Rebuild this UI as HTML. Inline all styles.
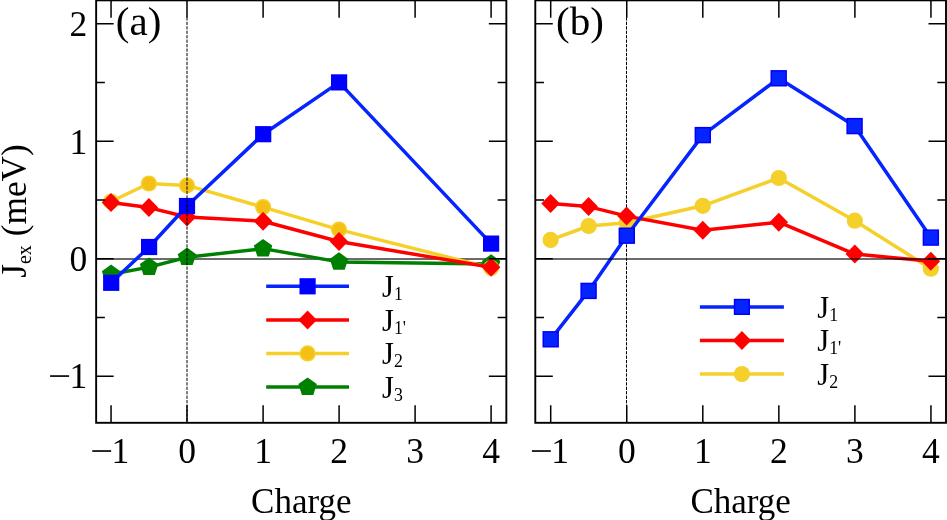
<!DOCTYPE html>
<html><head><meta charset="utf-8"><title>Jex vs Charge</title>
<style>
html,body{margin:0;padding:0;background:#fff;}
body{width:947px;height:520px;overflow:hidden;}
svg{display:block;will-change:transform;}
text{font-family:"Liberation Serif",serif;fill:#000;}
</style></head><body>
<svg width="947" height="520" viewBox="0 0 947 520">
<rect width="947" height="520" fill="#fff"/>
<path d="M96.15 258.9H506.35" stroke="#6b6b6b" stroke-width="2"/>
<path d="M111.1 274.2L149.1 267.1L187 257.2L263.05 248.6L339 261.9L491.1 263.9" stroke="#008000" stroke-width="3.5" fill="none" stroke-linejoin="round"/>
<path d="M111.10 264.50L120.33 271.20L116.80 282.05L105.40 282.05L101.87 271.20Z" fill="#008000"/>
<path d="M149.10 257.40L158.33 264.10L154.80 274.95L143.40 274.95L139.87 264.10Z" fill="#008000"/>
<path d="M187.00 247.50L196.23 254.20L192.70 265.05L181.30 265.05L177.77 254.20Z" fill="#008000"/>
<path d="M263.05 238.90L272.28 245.60L268.75 256.45L257.35 256.45L253.82 245.60Z" fill="#008000"/>
<path d="M339.00 252.20L348.23 258.90L344.70 269.75L333.30 269.75L329.77 258.90Z" fill="#008000"/>
<path d="M491.10 254.20L500.33 260.90L496.80 271.75L485.40 271.75L481.87 260.90Z" fill="#008000"/>
<path d="M111 201.5L148.9 183.5L187 185.4L263.1 207.1L339 229.6L491.1 268" stroke="#f5d02a" stroke-width="3.5" fill="none" stroke-linejoin="round"/>
<circle cx="111" cy="201.5" r="7.35" fill="#f5c015" stroke="#f5d02a" stroke-width="1.5"/>
<circle cx="148.9" cy="183.5" r="7.35" fill="#f5c015" stroke="#f5d02a" stroke-width="1.5"/>
<circle cx="187" cy="185.4" r="7.35" fill="#f5c015" stroke="#f5d02a" stroke-width="1.5"/>
<circle cx="263.1" cy="207.1" r="7.35" fill="#f5c015" stroke="#f5d02a" stroke-width="1.5"/>
<circle cx="339" cy="229.6" r="7.35" fill="#f5c015" stroke="#f5d02a" stroke-width="1.5"/>
<circle cx="491.1" cy="268" r="7.35" fill="#f5c015" stroke="#f5d02a" stroke-width="1.5"/>
<path d="M111 202.5L148.9 207.6L187 217L263.1 221.2L339 241.5L491.1 267.3" stroke="#ff0000" stroke-width="3.5" fill="none" stroke-linejoin="round"/>
<path d="M111 193.0L120.3 202.5L111 212.0L101.7 202.5Z" fill="#ff0000"/>
<path d="M148.9 198.1L158.20000000000002 207.6L148.9 217.1L139.6 207.6Z" fill="#ff0000"/>
<path d="M187 207.5L196.3 217L187 226.5L177.7 217Z" fill="#ff0000"/>
<path d="M263.1 211.7L272.40000000000003 221.2L263.1 230.7L253.8 221.2Z" fill="#ff0000"/>
<path d="M339 232.0L348.3 241.5L339 251.0L329.7 241.5Z" fill="#ff0000"/>
<path d="M491.1 257.8L500.40000000000003 267.3L491.1 276.8L481.8 267.3Z" fill="#ff0000"/>
<path d="M111.2 282.8L149.1 247L187 206L263.2 134.2L339.1 82.4L491.1 243.6" stroke="#0524ff" stroke-width="3.5" fill="none" stroke-linejoin="round"/>
<rect x="103.10" y="274.70" width="16.2" height="16.2" fill="#0000ff"/>
<rect x="141.00" y="238.90" width="16.2" height="16.2" fill="#0000ff"/>
<rect x="178.90" y="197.90" width="16.2" height="16.2" fill="#0000ff"/>
<rect x="255.10" y="126.10" width="16.2" height="16.2" fill="#0000ff"/>
<rect x="331.00" y="74.30" width="16.2" height="16.2" fill="#0000ff"/>
<rect x="483.00" y="235.50" width="16.2" height="16.2" fill="#0000ff"/>
<path d="M187 17.35V422.8" stroke="#000" stroke-width="1" stroke-dasharray="3.2 1.25" fill="none"/>
<path d="M111.05 422.8V405.3M111.05 0.35V17.85M187.0 422.8V405.3M187.0 0.35V17.85M263.1 422.8V405.3M263.1 0.35V17.85M339.1 422.8V405.3M339.1 0.35V17.85M415.1 422.8V405.3M415.1 0.35V17.85M491.1 422.8V405.3M491.1 0.35V17.85M96.15 23.849999999999994H113.65M506.35 23.849999999999994H488.85M96.15 141.3H113.65M506.35 141.3H488.85M96.15 258.75H113.65M506.35 258.75H488.85M96.15 376.2H113.65M506.35 376.2H488.85M96.15 82.57499999999999H104.85000000000001M506.35 82.57499999999999H497.65000000000003M96.15 200.025H104.85000000000001M506.35 200.025H497.65000000000003M96.15 317.475H104.85000000000001M506.35 317.475H497.65000000000003" stroke="#000" stroke-width="1.5" fill="none"/>
<rect x="96.15" y="0.35" width="410.20000000000005" height="422.45" fill="none" stroke="#000" stroke-width="1.9"/>
<path d="M266.2 286.3H349" stroke="#0524ff" stroke-width="3.5"/>
<rect x="299.50" y="278.20" width="16.2" height="16.2" fill="#0000ff"/>
<text x="382.0" y="296.90000000000003" font-size="30.5">J<tspan font-size="17.8" dy="3.2">1</tspan></text>
<path d="M266.2 319.9H349" stroke="#ff0000" stroke-width="3.5"/>
<path d="M307.6 310.4L316.90000000000003 319.9L307.6 329.4L298.3 319.9Z" fill="#ff0000"/>
<text x="382.0" y="330.5" font-size="30.5">J<tspan font-size="17.8" dy="3.2">1'</tspan></text>
<path d="M266.2 353.4H349" stroke="#f5d02a" stroke-width="3.5"/>
<circle cx="307.6" cy="353.4" r="7.35" fill="#f5c015" stroke="#f5d02a" stroke-width="1.5"/>
<text x="382.0" y="364.0" font-size="30.5">J<tspan font-size="17.8" dy="3.2">2</tspan></text>
<path d="M266.2 387.0H349" stroke="#008000" stroke-width="3.5"/>
<path d="M307.60 377.40L316.83 384.10L313.30 394.95L301.90 394.95L298.37 384.10Z" fill="#008000"/>
<text x="382.0" y="397.6" font-size="30.5">J<tspan font-size="17.8" dy="3.2">3</tspan></text>
<path d="M626.5 17.35V422.8" stroke="#000" stroke-width="1" stroke-dasharray="3.2 1.25" fill="none"/>
<path d="M550.6 239.9L588.7 226.0L626.7 222.8L702.8 205.8L778.8 178L854.8 220.7L930.85 268.7" stroke="#f5d02a" stroke-width="3.5" fill="none" stroke-linejoin="round"/>
<circle cx="550.6" cy="239.9" r="8.1" fill="#f5d02a"/>
<circle cx="588.7" cy="226.0" r="8.1" fill="#f5d02a"/>
<circle cx="626.7" cy="222.8" r="8.1" fill="#f5d02a"/>
<circle cx="702.8" cy="205.8" r="8.1" fill="#f5d02a"/>
<circle cx="778.8" cy="178" r="8.1" fill="#f5d02a"/>
<circle cx="854.8" cy="220.7" r="8.1" fill="#f5d02a"/>
<circle cx="930.85" cy="268.7" r="8.1" fill="#f5d02a"/>
<path d="M550.6 203.4L588.6 206.6L626.6 216.1L702.8 230.3L778.8 222.2L854.8 254.1L930.85 261.2" stroke="#ff0000" stroke-width="3.5" fill="none" stroke-linejoin="round"/>
<path d="M550.6 193.9L559.9 203.4L550.6 212.9L541.3000000000001 203.4Z" fill="#ff0000"/>
<path d="M588.6 197.1L597.9 206.6L588.6 216.1L579.3000000000001 206.6Z" fill="#ff0000"/>
<path d="M626.6 206.6L635.9 216.1L626.6 225.6L617.3000000000001 216.1Z" fill="#ff0000"/>
<path d="M702.8 220.8L712.0999999999999 230.3L702.8 239.8L693.5 230.3Z" fill="#ff0000"/>
<path d="M778.8 212.7L788.0999999999999 222.2L778.8 231.7L769.5 222.2Z" fill="#ff0000"/>
<path d="M854.8 244.6L864.0999999999999 254.1L854.8 263.6L845.5 254.1Z" fill="#ff0000"/>
<path d="M930.85 251.7L940.15 261.2L930.85 270.7L921.5500000000001 261.2Z" fill="#ff0000"/>
<path d="M550.7 339.3L588.6 290.9L626.8 235.7L702.8 135.1L778.7 78.3L854.6 126.1L930.85 237.6" stroke="#0524ff" stroke-width="3.5" fill="none" stroke-linejoin="round"/>
<rect x="543.25" y="331.85" width="14.899999999999999" height="14.899999999999999" fill="#0524ff" stroke="#0000ff" stroke-width="1.5"/>
<rect x="581.15" y="283.45" width="14.899999999999999" height="14.899999999999999" fill="#0524ff" stroke="#0000ff" stroke-width="1.5"/>
<rect x="619.35" y="228.25" width="14.899999999999999" height="14.899999999999999" fill="#0524ff" stroke="#0000ff" stroke-width="1.5"/>
<rect x="695.35" y="127.65" width="14.899999999999999" height="14.899999999999999" fill="#0524ff" stroke="#0000ff" stroke-width="1.5"/>
<rect x="771.25" y="70.85" width="14.899999999999999" height="14.899999999999999" fill="#0524ff" stroke="#0000ff" stroke-width="1.5"/>
<rect x="847.15" y="118.65" width="14.899999999999999" height="14.899999999999999" fill="#0524ff" stroke="#0000ff" stroke-width="1.5"/>
<rect x="923.40" y="230.15" width="14.899999999999999" height="14.899999999999999" fill="#0524ff" stroke="#0000ff" stroke-width="1.5"/>
<path d="M535.3 258.9H946.0" stroke="#000" stroke-opacity="0.58" stroke-width="2"/>
<path d="M550.7 422.8V405.3M550.7 0.35V17.85M626.75 422.8V405.3M626.75 0.35V17.85M702.8 422.8V405.3M702.8 0.35V17.85M778.85 422.8V405.3M778.85 0.35V17.85M854.9 422.8V405.3M854.9 0.35V17.85M930.95 422.8V405.3M930.95 0.35V17.85M535.3 23.849999999999994H552.8M946.0 23.849999999999994H928.5M535.3 141.3H552.8M946.0 141.3H928.5M535.3 258.75H552.8M946.0 258.75H928.5M535.3 376.2H552.8M946.0 376.2H928.5M535.3 82.57499999999999H544.0M946.0 82.57499999999999H937.3M535.3 200.025H544.0M946.0 200.025H937.3M535.3 317.475H544.0M946.0 317.475H937.3" stroke="#000" stroke-width="1.5" fill="none"/>
<rect x="535.3" y="0.35" width="410.70000000000005" height="422.45" fill="none" stroke="#000" stroke-width="1.9"/>
<path d="M699.9 306.9H783.9" stroke="#0524ff" stroke-width="3.5"/>
<rect x="734.55" y="299.55" width="14.7" height="14.7" fill="#0524ff" stroke="#0000ff" stroke-width="1.5"/>
<text x="817.3" y="317.5" font-size="30.5">J<tspan font-size="17.8" dy="3.2">1</tspan></text>
<path d="M699.9 340.4H783.9" stroke="#ff0000" stroke-width="3.5"/>
<path d="M741.9 330.9L751.1999999999999 340.4L741.9 349.9L732.6 340.4Z" fill="#ff0000"/>
<text x="817.3" y="351.0" font-size="30.5">J<tspan font-size="17.8" dy="3.2">1'</tspan></text>
<path d="M699.9 374.0H783.9" stroke="#f5d02a" stroke-width="3.5"/>
<circle cx="741.9" cy="374.0" r="8.1" fill="#f5d02a"/>
<text x="817.3" y="384.6" font-size="30.5">J<tspan font-size="17.8" dy="3.2">2</tspan></text>
<rect x="92.25" y="450.2" width="18.9" height="1.65" fill="#000"/>
<text x="120.40" y="463.2" font-size="35.5" text-anchor="middle">1</text>
<text x="187.0" y="463.2" font-size="35.5" text-anchor="middle">0</text>
<text x="263.1" y="463.2" font-size="35.5" text-anchor="middle">1</text>
<text x="339.1" y="463.2" font-size="35.5" text-anchor="middle">2</text>
<text x="415.1" y="463.2" font-size="35.5" text-anchor="middle">3</text>
<text x="491.1" y="463.2" font-size="35.5" text-anchor="middle">4</text>
<rect x="531.90" y="450.2" width="18.9" height="1.65" fill="#000"/>
<text x="560.05" y="463.2" font-size="35.5" text-anchor="middle">1</text>
<text x="626.75" y="463.2" font-size="35.5" text-anchor="middle">0</text>
<text x="702.8" y="463.2" font-size="35.5" text-anchor="middle">1</text>
<text x="778.85" y="463.2" font-size="35.5" text-anchor="middle">2</text>
<text x="854.9" y="463.2" font-size="35.5" text-anchor="middle">3</text>
<text x="930.95" y="463.2" font-size="35.5" text-anchor="middle">4</text>
<text x="87.2" y="36.05" font-size="35.5" text-anchor="end">2</text>
<text x="87.2" y="153.50" font-size="35.5" text-anchor="end">1</text>
<text x="87.2" y="270.95" font-size="35.5" text-anchor="end">0</text>
<rect x="50.1" y="375.25" width="19" height="1.65" fill="#000"/>
<text x="87.2" y="388.40" font-size="35.5" text-anchor="end">1</text>
<text x="301.3" y="512.5" font-size="35" text-anchor="middle">Charge</text>
<text x="740.6" y="512.5" font-size="35" text-anchor="middle">Charge</text>
<text transform="translate(26.2 211) rotate(-90)" font-size="35.3" text-anchor="middle">J<tspan font-size="20" dy="4.9">ex</tspan><tspan dy="-4.9"> (meV)</tspan></text>
<text x="115.8" y="34.5" font-size="41">(a)</text>
<text x="556.1" y="34.6" font-size="41">(b)</text>
</svg>
</body></html>
